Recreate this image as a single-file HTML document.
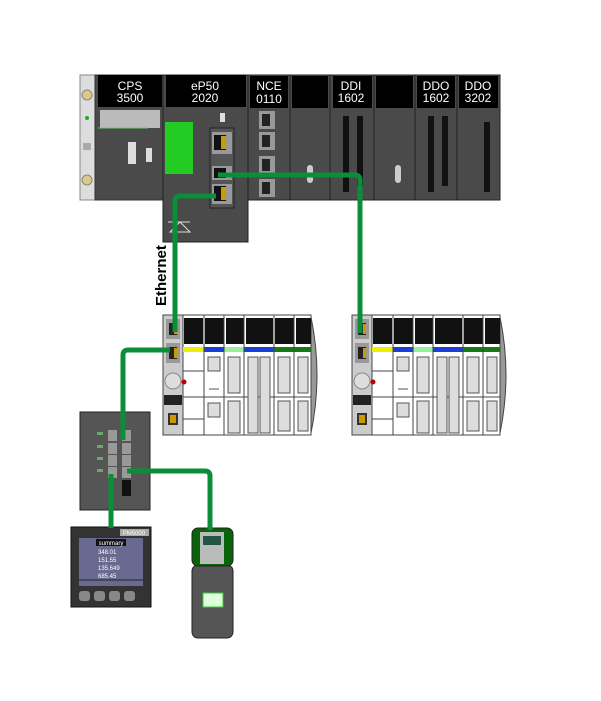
<!DOCTYPE html>
<html><head><meta charset="utf-8"><style>body{margin:0;background:#fff}svg{display:block}</style></head>
<body>
<svg width="601" height="701" viewBox="0 0 601 701" xmlns="http://www.w3.org/2000/svg" font-family="Liberation Sans, sans-serif">
<defs>
<g id="island">
  <rect x="0" y="0" width="148" height="120" fill="#fff" stroke="#444"/>
  <path d="M148 2 Q160 60 148 118 Z" fill="#999" stroke="#444"/>
  <rect x="0" y="0" width="20" height="120" fill="#ccc" stroke="#444"/>
  <rect x="3" y="4" width="14" height="20" fill="#999"/><rect x="6" y="8" width="8" height="12" fill="#222"/><rect x="11" y="9" width="3" height="10" fill="#c90"/>
  <rect x="3" y="28" width="14" height="20" fill="#999"/><rect x="6" y="32" width="8" height="12" fill="#222"/><rect x="11" y="33" width="3" height="10" fill="#c90"/>
  <circle cx="10" cy="66" r="8" fill="#ddd" stroke="#888"/>
  <circle cx="21" cy="67" r="2.5" fill="#b00"/>
  <rect x="1" y="80" width="18" height="10" fill="#222"/>
  <rect x="5" y="98" width="10" height="12" fill="#333"/><rect x="7" y="100" width="6" height="8" fill="#c90"/>
  <g fill="#111">
    <rect x="21" y="3" width="19" height="26"/><rect x="42" y="3" width="19" height="26"/><rect x="63" y="3" width="18" height="26"/>
    <rect x="83" y="3" width="27" height="26"/><rect x="112" y="3" width="19" height="26"/><rect x="133" y="3" width="15" height="26"/>
  </g>
  <rect x="20" y="32" width="21" height="5" fill="#ee0"/>
  <rect x="41" y="32" width="20" height="5" fill="#1a3fd6"/>
  <rect x="61" y="32" width="20" height="5" fill="#9e9"/>
  <rect x="81" y="32" width="30" height="5" fill="#1a3fd6"/>
  <rect x="111" y="32" width="37" height="5" fill="#177a17"/>
  <g stroke="#444" fill="none"><line x1="41" y1="0" x2="41" y2="120"/><line x1="61" y1="0" x2="61" y2="120"/><line x1="81" y1="0" x2="81" y2="120"/><line x1="111" y1="0" x2="111" y2="120"/><line x1="131" y1="0" x2="131" y2="120"/>
  <line x1="20" y1="56" x2="41" y2="56"/><line x1="20" y1="82" x2="148" y2="82"/><line x1="20" y1="104" x2="41" y2="104"/></g>
  <line x1="46" y1="74" x2="56" y2="74" stroke="#555"/>
  <g fill="#ddd" stroke="#555">
    <rect x="45" y="42" width="12" height="14"/><rect x="45" y="88" width="12" height="14"/>
    <rect x="65" y="42" width="12" height="36"/><rect x="65" y="86" width="12" height="32"/>
    <rect x="85" y="42" width="10" height="76"/><rect x="97" y="42" width="10" height="76"/>
    <rect x="115" y="42" width="12" height="36"/><rect x="135" y="42" width="10" height="36"/>
    <rect x="115" y="86" width="12" height="30"/><rect x="135" y="86" width="10" height="30"/>
  </g>
</g>
</defs>

<!-- rack -->
<rect x="80" y="75" width="420" height="125" fill="#444" stroke="#333"/>
<rect x="80" y="75" width="15" height="125" fill="#ddd" stroke="#888"/>
<circle cx="87" cy="95" r="5" fill="#dcc88c" stroke="#887"/>
<circle cx="87" cy="180" r="5" fill="#dcc88c" stroke="#887"/>
<circle cx="87" cy="118" r="2" fill="#2a2"/>
<rect x="83" y="143" width="8" height="7" fill="#aaa"/>
<rect x="95" y="75" width="68" height="125" fill="#4a4a4a" stroke="#333"/>
<rect x="98" y="75" width="64" height="32" fill="#000"/>
<text x="130" y="90" font-size="12" fill="#fff" text-anchor="middle">CPS</text>
<text x="130" y="102" font-size="12" fill="#fff" text-anchor="middle">3500</text>
<rect x="100" y="110" width="60" height="18" fill="#bbb"/>
<line x1="98" y1="128" x2="148" y2="128" stroke="#6c6"/>
<rect x="128" y="142" width="8" height="22" fill="#ddd"/><rect x="146" y="148" width="6" height="14" fill="#ddd"/>
<rect x="163" y="75" width="85" height="167" fill="#4a4a4a" stroke="#222"/>
<rect x="166" y="75" width="80" height="32" fill="#000"/>
<text x="205" y="90" font-size="12" fill="#fff" text-anchor="middle">eP50</text>
<text x="205" y="102" font-size="12" fill="#fff" text-anchor="middle">2020</text>
<rect x="165" y="122" width="28" height="52" fill="#2c2"/>
<rect x="220" y="113" width="5" height="9" fill="#ddd"/>
<rect x="210" y="128" width="24" height="80" fill="#555" stroke="#222"/>
<rect x="212" y="132" width="20" height="22" fill="#999"/><rect x="214" y="135" width="12" height="15" fill="#111"/><rect x="221" y="136" width="5" height="13" fill="#c90"/>
<rect x="212" y="166" width="20" height="14" fill="#999"/><rect x="214" y="168" width="12" height="10" fill="#111"/>
<rect x="212" y="184" width="20" height="20" fill="#999"/><rect x="214" y="186" width="12" height="15" fill="#111"/><rect x="221" y="187" width="5" height="13" fill="#c90"/>
<path d="M168 222 L190 222 M170 232 L180 222 L190 232 Z" stroke="#ddd" fill="none"/>
<g stroke="#222"><rect x="248" y="75" width="42" height="125" fill="#4a4a4a"/><rect x="290" y="75" width="40" height="125" fill="#4a4a4a"/><rect x="330" y="75" width="44" height="125" fill="#4a4a4a"/><rect x="374" y="75" width="41" height="125" fill="#4a4a4a"/><rect x="415" y="75" width="42" height="125" fill="#4a4a4a"/><rect x="457" y="75" width="43" height="125" fill="#4a4a4a"/></g>
<g fill="#000"><rect x="250" y="76" width="38" height="32"/><rect x="292" y="76" width="36" height="32"/><rect x="333" y="76" width="39" height="32"/><rect x="376" y="76" width="37" height="32"/><rect x="417" y="76" width="38" height="32"/><rect x="459" y="76" width="39" height="32"/></g>
<g font-size="12" fill="#fff" text-anchor="middle">
<text x="269" y="90">NCE</text><text x="269" y="103">0110</text>
<text x="351" y="90">DDI</text><text x="351" y="102">1602</text>
<text x="436" y="90">DDO</text><text x="436" y="102">1602</text>
<text x="478" y="90">DDO</text><text x="478" y="102">3202</text></g>
<g fill="#999"><rect x="259" y="111" width="16" height="18"/><rect x="259" y="132" width="16" height="18"/><rect x="259" y="156" width="16" height="18"/><rect x="259" y="179" width="16" height="18"/></g>
<g fill="#222"><rect x="262" y="114" width="8" height="12"/><rect x="262" y="135" width="8" height="12"/><rect x="262" y="159" width="8" height="12"/><rect x="262" y="182" width="8" height="12"/></g>
<rect x="307" y="165" width="6" height="18" rx="3" fill="#ccc"/>
<rect x="395" y="165" width="6" height="18" rx="3" fill="#ccc"/>
<g fill="#111"><rect x="343" y="116" width="6" height="76"/><rect x="357" y="116" width="6" height="70"/><rect x="428" y="116" width="6" height="76"/><rect x="442" y="116" width="6" height="70"/><rect x="484" y="122" width="6" height="70"/></g>

<!-- islands -->
<use href="#island" x="163" y="315"/>
<use href="#island" x="352" y="315"/>

<!-- switch -->
<rect x="80" y="412" width="70" height="98" fill="#555" stroke="#222"/>
<g fill="#999"><rect x="108" y="430" width="9" height="11"/><rect x="108" y="443" width="9" height="11"/><rect x="108" y="455" width="9" height="11"/><rect x="108" y="467" width="9" height="11"/>
<rect x="122" y="430" width="9" height="11"/><rect x="122" y="443" width="9" height="11"/><rect x="122" y="455" width="9" height="11"/><rect x="122" y="467" width="9" height="11"/></g>
<rect x="122" y="480" width="9" height="16" fill="#111"/>
<g fill="#6a6"><rect x="97" y="432" width="6" height="3"/><rect x="97" y="445" width="6" height="3"/><rect x="97" y="457" width="6" height="3"/><rect x="97" y="469" width="6" height="3"/></g>

<!-- PM5000 -->
<rect x="71" y="527" width="80" height="80" fill="#333" stroke="#111"/>
<rect x="120" y="529" width="29" height="7" fill="#aaa"/><text x="134" y="535" font-size="6" fill="#fff" text-anchor="middle">PM5000</text>
<rect x="79" y="538" width="64" height="48" fill="#6a6a90"/>
<rect x="96" y="539" width="30" height="7" fill="#111"/><text x="111" y="545" font-size="6" fill="#fff" text-anchor="middle">summary</text>
<g font-size="6" fill="#fff"><text x="98" y="554">348.01</text><text x="98" y="562">151.55</text><text x="98" y="570">135.649</text><text x="98" y="578">685.45</text></g>
<line x1="79" y1="580" x2="143" y2="580" stroke="#222"/>
<g fill="#888"><rect x="79" y="591" width="11" height="10" rx="3"/><rect x="94" y="591" width="11" height="10" rx="3"/><rect x="109" y="591" width="11" height="10" rx="3"/><rect x="124" y="591" width="11" height="10" rx="3"/></g>

<!-- drive -->
<rect x="192" y="565" width="41" height="73" rx="6" fill="#555" stroke="#222"/>
<rect x="192" y="528" width="41" height="38" rx="6" fill="#096309" stroke="#222"/>
<rect x="200" y="532" width="24" height="32" fill="#bbb"/><rect x="203" y="536" width="18" height="9" fill="#254"/>
<rect x="203" y="593" width="20" height="14" fill="#dfd" stroke="#3c3"/>

<!-- cables -->
<g fill="none" stroke="#0b8e3a" stroke-width="5" stroke-linejoin="round">
<path d="M218 175 H355 Q360 175 360 180 V333"/>
<path d="M216 196 H180 Q175 196 175 201 V332"/>
<path d="M170 350 H128 Q123 350 123 355 V440"/>
<path d="M127 471 H205 Q210 471 210 476 V530"/>
<path d="M111 474 V528"/>
</g>
<text transform="translate(166,306) rotate(-90)" font-size="15" font-weight="bold" fill="#000">Ethernet</text>
</svg>
</body></html>
